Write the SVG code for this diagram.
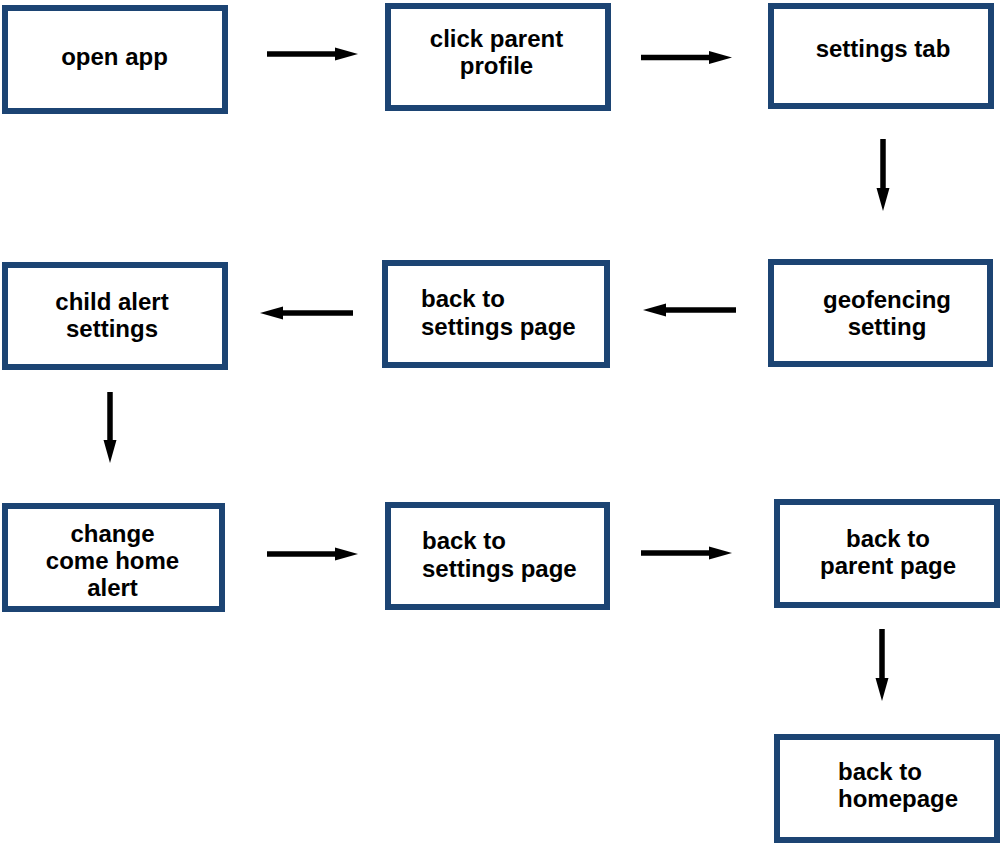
<svg xmlns="http://www.w3.org/2000/svg" width="1000" height="843" viewBox="0 0 1000 843">
<style>
.box{fill:#fff;stroke:#1c4473;stroke-width:6}
.t{font-family:"Liberation Sans",Arial,Helvetica,sans-serif;font-weight:bold;font-size:24px;fill:#000}
.c{text-anchor:middle}
.sh{stroke:#000;stroke-width:5.5;fill:none}
</style>
<defs>
<marker id="ah" markerUnits="userSpaceOnUse" markerWidth="24" markerHeight="14" refX="0" refY="7" orient="auto" overflow="visible">
<path d="M-1,0.5 L22,7 L-1,13.5 Z" fill="#000"/>
</marker>
</defs>
<rect width="1000" height="843" fill="#fff"/>
<g id="connectors">
<line class="sh" x1="267" y1="54" x2="336" y2="54" marker-end="url(#ah)"/>
<line class="sh" x1="641" y1="57.5" x2="710" y2="57.5" marker-end="url(#ah)"/>
<line class="sh" x1="883" y1="139" x2="883" y2="189" marker-end="url(#ah)"/>
<line class="sh" x1="736" y1="310" x2="665" y2="310" marker-end="url(#ah)"/>
<line class="sh" x1="353" y1="313" x2="282" y2="313" marker-end="url(#ah)"/>
<line class="sh" x1="110" y1="392" x2="110" y2="441" marker-end="url(#ah)"/>
<line class="sh" x1="267" y1="554" x2="336" y2="554" marker-end="url(#ah)"/>
<line class="sh" x1="641" y1="553" x2="710" y2="553" marker-end="url(#ah)"/>
<line class="sh" x1="882" y1="629" x2="882" y2="679" marker-end="url(#ah)"/>
</g>
<g id="n1"><rect class="box" x="5" y="8" width="220" height="103"/><text class="t c" x="114.5" y="65">open app</text></g>
<g id="n2"><rect class="box" x="388" y="6" width="220" height="102"/><text class="t c" x="496.5" y="47">click parent</text><text class="t c" x="496.5" y="74">profile</text></g>
<g id="n3"><rect class="box" x="771" y="6" width="220" height="100"/><text class="t c" x="883" y="57">settings tab</text></g>
<g id="n4"><rect class="box" x="771" y="262" width="219" height="102"/><text class="t c" x="887" y="308">geofencing</text><text class="t c" x="887" y="335">setting</text></g>
<g id="n5"><rect class="box" x="385" y="263" width="222" height="102"/><text class="t" x="421" y="307">back to</text><text class="t" x="421" y="335">settings page</text></g>
<g id="n6"><rect class="box" x="5" y="265" width="220" height="102"/><text class="t c" x="112" y="310">child alert</text><text class="t c" x="112" y="337">settings</text></g>
<g id="n7"><rect class="box" x="5" y="506" width="217" height="103"/><text class="t c" x="112.5" y="542">change</text><text class="t c" x="112.5" y="569">come home</text><text class="t c" x="112.5" y="596">alert</text></g>
<g id="n8"><rect class="box" x="388" y="505" width="219" height="102"/><text class="t" x="422" y="549">back to</text><text class="t" x="422" y="577">settings page</text></g>
<g id="n9"><rect class="box" x="777" y="502" width="220" height="103"/><text class="t c" x="888" y="547">back to</text><text class="t c" x="888" y="574">parent page</text></g>
<g id="n10"><rect class="box" x="777" y="737" width="220" height="103"/><text class="t" x="838" y="780">back to</text><text class="t" x="838" y="807">homepage</text></g>
</svg>
